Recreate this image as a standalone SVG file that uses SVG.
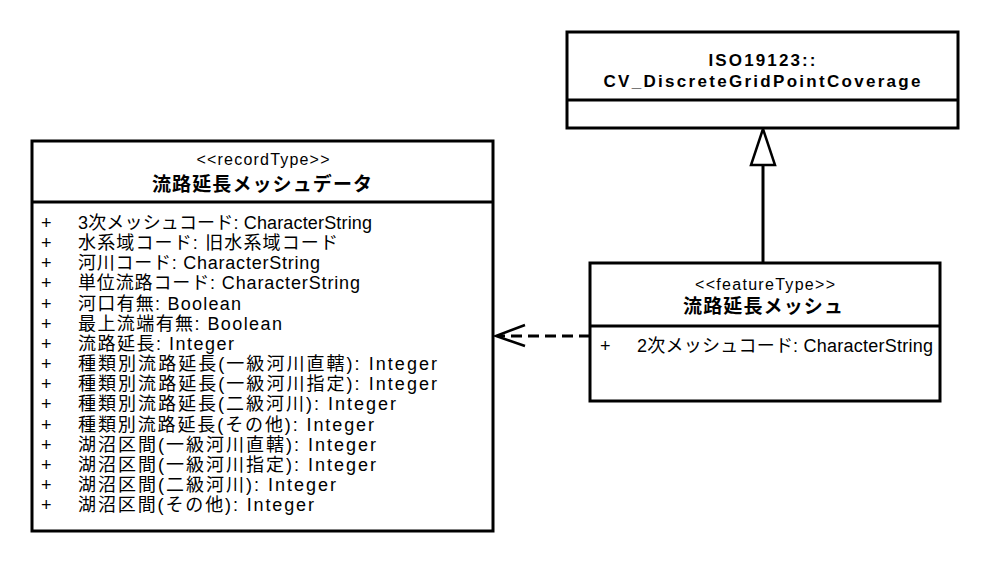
<svg xmlns="http://www.w3.org/2000/svg" width="989" height="563" viewBox="0 0 989 563">
<style>
.box{fill:#fff;stroke:#000;stroke-width:3}
.div{stroke:#000;stroke-width:3}
text{font-family:"Liberation Sans","Noto Sans CJK JP",sans-serif;fill:#000}
.st{font-size:16px;text-anchor:middle}
.nm{font-size:19px;font-weight:bold;text-anchor:middle}
.at{font-size:18px}
.tt{font-size:17px;font-weight:bold;text-anchor:middle}
</style>
<rect width="989" height="563" fill="#fff"/>
<g id="connectors">
<line x1="763" y1="263" x2="763" y2="165" stroke="#000" stroke-width="3"/>
<polygon points="763,129 751,165 775,165" fill="#fff" stroke="#000" stroke-width="2.5"/>
<line x1="590" y1="336" x2="498" y2="336" stroke="#000" stroke-width="3" stroke-dasharray="11,6"/>
<polyline points="525,325 496,336 525,346" fill="none" stroke="#000" stroke-width="2.5"/>
</g>
<g id="coverage">
<rect class="box" x="567" y="32" width="391" height="96"/>
<line class="div" x1="567" y1="100" x2="958" y2="100"/>
<text class="tt" x="762" y="66" textLength="107">ISO19123::</text>
<text class="tt" x="762" y="87" textLength="317">CV_DiscreteGridPointCoverage</text>
</g>
<g id="record">
<rect class="box" x="32" y="141" width="461" height="390"/>
<line class="div" x1="32" y1="202" x2="493" y2="202"/>
<text class="st" x="263" y="165" textLength="133">&lt;&lt;recordType&gt;&gt;</text>
<text class="nm" x="262" y="191" textLength="220">流路延長メッシュデータ</text>
<g class="at">
<text x="41" y="229">+</text><text x="78" y="229" textLength="294">3次メッシュコード: CharacterString</text>
<text x="41" y="249">+</text><text x="78" y="249" textLength="260">水系域コード: 旧水系域コード</text>
<text x="41" y="269">+</text><text x="78" y="269" textLength="242">河川コード: CharacterString</text>
<text x="41" y="289">+</text><text x="78" y="289" textLength="282">単位流路コード: CharacterString</text>
<text x="41" y="310">+</text><text x="78" y="310" textLength="163">河口有無: Boolean</text>
<text x="41" y="330">+</text><text x="78" y="330" textLength="204">最上流端有無: Boolean</text>
<text x="41" y="350">+</text><text x="78" y="350" textLength="156">流路延長: Integer</text>
<text x="41" y="370">+</text><text x="78" y="370" textLength="359">種類別流路延長(一級河川直轄): Integer</text>
<text x="41" y="390">+</text><text x="78" y="390" textLength="359">種類別流路延長(一級河川指定): Integer</text>
<text x="41" y="410">+</text><text x="78" y="410" textLength="318">種類別流路延長(二級河川): Integer</text>
<text x="41" y="431">+</text><text x="78" y="431" textLength="296">種類別流路延長(その他): Integer</text>
<text x="41" y="451">+</text><text x="78" y="451" textLength="298">湖沼区間(一級河川直轄): Integer</text>
<text x="41" y="471">+</text><text x="78" y="471" textLength="298">湖沼区間(一級河川指定): Integer</text>
<text x="41" y="491">+</text><text x="78" y="491" textLength="258">湖沼区間(二級河川): Integer</text>
<text x="41" y="511">+</text><text x="78" y="511" textLength="236">湖沼区間(その他): Integer</text>
</g>
</g>
<g id="mesh">
<rect class="box" x="590" y="263" width="350" height="138"/>
<line class="div" x1="590" y1="326" x2="940" y2="326"/>
<text class="st" x="765" y="290" textLength="140">&lt;&lt;featureType&gt;&gt;</text>
<text class="nm" x="763" y="313" textLength="160">流路延長メッシュ</text>
<text class="at" x="600" y="352">+</text>
<text class="at" x="637" y="352" textLength="296">2次メッシュコード: CharacterString</text>
</g>
</svg>
